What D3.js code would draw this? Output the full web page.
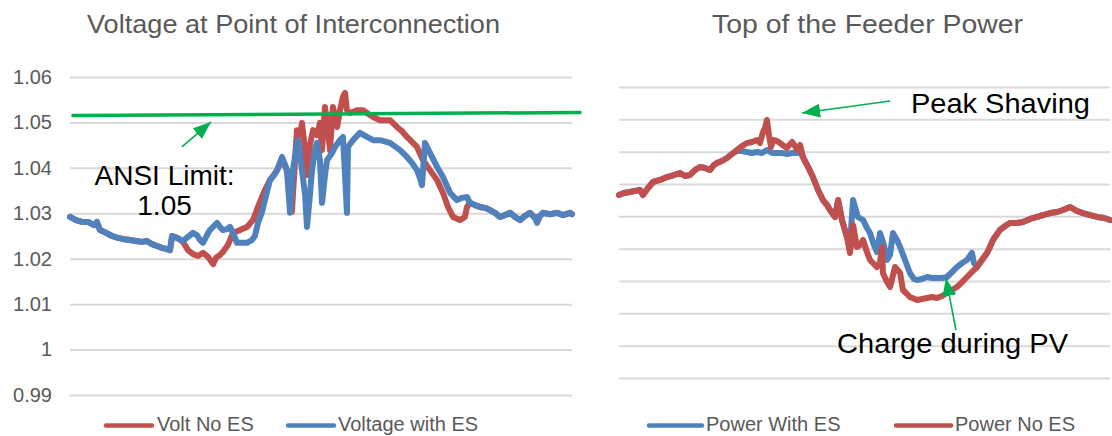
<!DOCTYPE html>
<html><head><meta charset="utf-8">
<script src="https://cdn.jsdelivr.net/npm/d3@7"></script>
<style>body{margin:0;background:#fff}svg{display:block;font-family:"Liberation Sans",Arial,sans-serif}</style>
</head><body><svg id="c" width="1112" height="436"></svg>
<script>
// ---------- DATA ----------
const voltTicks = [0.99, 1.00, 1.01, 1.02, 1.03, 1.04, 1.05, 1.06];
const voltTickLabels = ["0.99", "1", "1.01", "1.02", "1.03", "1.04", "1.05", "1.06"];
const powerTicks = [0, 0.5, 1, 1.5, 2, 2.5, 3, 3.5, 4, 4.5];

// [hour, p.u. voltage]
const voltNoES = [[0,1.0292],[0.29,1.0285],[0.57,1.0281],[0.86,1.0281],[1.15,1.0274],[1.29,1.0281],[1.43,1.0263],[1.72,1.0257],[2.01,1.0250],[2.29,1.0246],[2.58,1.0243],[2.87,1.0241],[3.16,1.0239],[3.44,1.0237],[3.68,1.0239],[3.92,1.0232],[4.16,1.0228],[4.40,1.0224],[4.64,1.0221],[4.78,1.0219],[4.88,1.0250],[5.12,1.0246],[5.40,1.0237],[5.64,1.0219],[5.88,1.0210],[6.12,1.0206],[6.36,1.0213],[6.60,1.0204],[6.84,1.0188],[6.98,1.0202],[7.17,1.0208],[7.31,1.0215],[7.55,1.0230],[7.79,1.0257],[8.13,1.0263],[8.46,1.0270],[8.75,1.0285],[8.99,1.0314],[9.18,1.0336],[9.32,1.0351],[9.56,1.0373],[9.75,1.0384],[9.90,1.0395],[10.14,1.0417],[10.28,1.0406],[10.42,1.0384],[10.61,1.0303],[10.76,1.0417],[10.85,1.0483],[11.00,1.0472],[11.09,1.0499],[11.24,1.0439],[11.33,1.0384],[11.47,1.0450],[11.62,1.0483],[11.81,1.0472],[11.95,1.0499],[12.05,1.0439],[12.19,1.0534],[12.33,1.0483],[12.43,1.0439],[12.57,1.0534],[12.77,1.0490],[12.91,1.0527],[13.05,1.0556],[13.15,1.0565],[13.24,1.0527],[13.39,1.0521],[13.53,1.0523],[13.72,1.0527],[14.01,1.0527],[14.25,1.0519],[14.49,1.0512],[14.82,1.0505],[15.30,1.0505],[15.63,1.0490],[15.87,1.0481],[16.11,1.0468],[16.35,1.0457],[16.59,1.0446],[16.88,1.0417],[17.21,1.0395],[17.55,1.0373],[17.83,1.0345],[18.07,1.0314],[18.31,1.0292],[18.65,1.0285],[18.88,1.0292],[18.98,1.0314],[19.12,1.0323],[19.36,1.0318],[19.60,1.0314],[19.84,1.0312],[20.08,1.0307],[20.32,1.0301],[20.56,1.0292],[20.80,1.0296],[21.04,1.0301],[21.28,1.0292],[21.51,1.0285],[21.75,1.0294],[21.99,1.0301],[22.23,1.0290],[22.47,1.0294],[22.61,1.0301],[22.95,1.0298],[23.28,1.0301],[23.57,1.0296],[23.90,1.0301],[24.00,1.0298]];

const voltWithES = [[0,1.0292],[0.29,1.0285],[0.57,1.0281],[0.86,1.0281],[1.15,1.0274],[1.29,1.0281],[1.43,1.0263],[1.72,1.0257],[2.01,1.0250],[2.29,1.0246],[2.58,1.0243],[2.87,1.0241],[3.16,1.0239],[3.44,1.0237],[3.68,1.0239],[3.92,1.0232],[4.16,1.0228],[4.40,1.0224],[4.64,1.0221],[4.78,1.0219],[4.88,1.0250],[5.12,1.0246],[5.40,1.0239],[5.64,1.0248],[5.88,1.0257],[6.07,1.0252],[6.22,1.0241],[6.36,1.0235],[6.55,1.0252],[6.69,1.0263],[6.88,1.0272],[7.03,1.0279],[7.17,1.0270],[7.31,1.0263],[7.51,1.0265],[7.65,1.0270],[7.84,1.0252],[7.98,1.0235],[8.22,1.0235],[8.46,1.0235],[8.70,1.0241],[8.84,1.0250],[8.99,1.0279],[9.18,1.0303],[9.32,1.0329],[9.56,1.0373],[9.75,1.0384],[9.90,1.0395],[10.14,1.0424],[10.28,1.0406],[10.37,1.0395],[10.52,1.0301],[10.66,1.0395],[10.80,1.0439],[10.90,1.0461],[11.00,1.0428],[11.09,1.0395],[11.24,1.0340],[11.33,1.0270],[11.47,1.0340],[11.57,1.0395],[11.71,1.0439],[11.81,1.0455],[11.95,1.0417],[12.05,1.0323],[12.19,1.0384],[12.29,1.0417],[12.53,1.0433],[12.67,1.0446],[12.91,1.0461],[13.05,1.0468],[13.15,1.0384],[13.24,1.0301],[13.29,1.0446],[13.53,1.0461],[13.86,1.0477],[14.20,1.0468],[14.49,1.0461],[14.82,1.0461],[15.30,1.0455],[15.78,1.0439],[16.11,1.0424],[16.35,1.0411],[16.59,1.0395],[16.73,1.0378],[16.83,1.0362],[16.97,1.0455],[17.21,1.0433],[17.55,1.0402],[17.83,1.0380],[18.17,1.0345],[18.50,1.0329],[18.74,1.0334],[18.98,1.0336],[19.12,1.0323],[19.36,1.0318],[19.60,1.0314],[19.84,1.0312],[20.08,1.0307],[20.32,1.0301],[20.56,1.0292],[20.80,1.0296],[21.04,1.0301],[21.28,1.0292],[21.51,1.0285],[21.75,1.0294],[21.99,1.0301],[22.23,1.0290],[22.33,1.0279],[22.47,1.0294],[22.61,1.0301],[22.95,1.0298],[23.28,1.0301],[23.57,1.0296],[23.90,1.0301],[24.00,1.0298]];

const ansiLimit = [[0.14,1.0515],[24.38,1.0522]];

// [hour, MW]
const powerWithES = [[0,2.830],[0.24,2.861],[0.54,2.876],[0.78,2.892],[1.03,2.907],[1.17,2.830],[1.42,2.938],[1.66,3.031],[2.00,3.062],[2.35,3.108],[2.69,3.139],[2.98,3.170],[3.23,3.124],[3.47,3.139],[3.71,3.216],[3.96,3.263],[4.20,3.247],[4.45,3.216],[4.64,3.294],[4.79,3.325],[5.03,3.356],[5.28,3.402],[5.52,3.464],[5.77,3.510],[6.01,3.510],[6.26,3.495],[6.50,3.479],[6.75,3.495],[6.99,3.479],[7.23,3.526],[7.48,3.479],[7.72,3.479],[7.97,3.479],[8.21,3.464],[8.46,3.479],[8.70,3.479],[8.85,3.495],[8.99,3.417],[9.24,3.263],[9.48,3.108],[9.73,2.907],[9.97,2.752],[10.17,2.675],[10.31,2.598],[10.56,2.490],[10.71,2.752],[10.90,2.443],[11.14,2.180],[11.29,2.057],[11.44,2.752],[11.68,2.490],[11.93,2.443],[12.12,2.319],[12.27,2.242],[12.46,2.057],[12.61,1.948],[12.76,2.242],[12.95,2.057],[13.10,1.825],[13.25,1.902],[13.39,2.242],[13.59,2.134],[13.74,2.026],[13.98,1.825],[14.22,1.624],[14.42,1.531],[14.57,1.515],[14.81,1.531],[15.06,1.562],[15.30,1.546],[15.54,1.546],[15.79,1.546],[16.03,1.562],[16.28,1.639],[16.52,1.716],[16.77,1.778],[17.01,1.825],[17.25,1.933],[17.35,1.778],[17.50,1.716],[17.74,1.825],[17.99,1.933],[18.13,2.026],[18.28,2.134],[18.48,2.227],[18.62,2.289],[18.87,2.350],[19.11,2.397],[19.45,2.397],[19.75,2.412],[20.09,2.459],[20.43,2.490],[20.73,2.520],[21.07,2.551],[21.41,2.567],[21.70,2.598],[22.05,2.644],[22.39,2.582],[22.68,2.551],[23.03,2.520],[23.37,2.490],[23.71,2.474],[24.00,2.443]];

const powerNoES = [[0,2.830],[0.24,2.861],[0.54,2.876],[0.78,2.892],[1.03,2.907],[1.17,2.830],[1.42,2.938],[1.66,3.031],[2.00,3.062],[2.35,3.108],[2.69,3.139],[2.98,3.170],[3.23,3.124],[3.47,3.139],[3.71,3.216],[3.96,3.263],[4.20,3.247],[4.45,3.216],[4.64,3.294],[4.79,3.325],[5.03,3.356],[5.28,3.402],[5.52,3.464],[5.77,3.526],[6.01,3.587],[6.26,3.634],[6.50,3.649],[6.75,3.680],[6.89,3.634],[7.04,3.804],[7.14,3.866],[7.23,3.990],[7.33,3.758],[7.43,3.572],[7.53,3.680],[7.72,3.665],[7.87,3.634],[8.07,3.587],[8.21,3.557],[8.36,3.618],[8.46,3.649],[8.60,3.587],[8.70,3.526],[8.85,3.603],[8.99,3.417],[9.24,3.263],[9.48,3.108],[9.73,2.907],[9.97,2.752],[10.17,2.675],[10.31,2.598],[10.56,2.490],[10.71,2.752],[10.90,2.443],[11.14,2.180],[11.29,1.933],[11.44,2.366],[11.63,2.026],[11.78,2.057],[11.93,2.134],[12.12,1.948],[12.27,1.825],[12.46,1.763],[12.61,1.716],[12.76,1.794],[12.86,2.026],[12.90,1.624],[13.10,1.484],[13.25,1.407],[13.49,1.716],[13.74,1.624],[13.88,1.361],[14.08,1.299],[14.22,1.253],[14.57,1.206],[14.81,1.222],[15.06,1.237],[15.30,1.253],[15.54,1.237],[15.79,1.268],[16.03,1.314],[16.28,1.361],[16.52,1.407],[16.77,1.484],[17.01,1.562],[17.25,1.639],[17.50,1.716],[17.74,1.825],[17.99,1.933],[18.13,2.026],[18.28,2.134],[18.48,2.227],[18.62,2.289],[18.87,2.350],[19.11,2.397],[19.45,2.397],[19.75,2.412],[20.09,2.459],[20.43,2.490],[20.73,2.520],[21.07,2.551],[21.41,2.567],[21.70,2.598],[22.05,2.644],[22.39,2.582],[22.68,2.551],[23.03,2.520],[23.37,2.490],[23.71,2.474],[24.00,2.443]];

const titles = ["Voltage at Point of Interconnection", "Top of the Feeder Power"];
const legendLeft = ["Volt No ES", "Voltage with ES"];
const legendRight = ["Power With ES", "Power No ES"];

// ---------- STYLE ----------
const RED = "#C0504D", BLUE = "#4F81BD", GREEN = "#00B050", GRID = "#D9D9D9", GREYTXT = "#595959";

const svg = d3.select("#c");
svg.append("rect").attr("width", 1112).attr("height", 436).attr("fill", "#fff");

const defs = svg.append("defs");
defs.append("marker").attr("id", "arr").attr("markerUnits", "userSpaceOnUse")
  .attr("markerWidth", 19).attr("markerHeight", 14).attr("refX", 18).attr("refY", 7)
  .attr("orient", "auto")
  .append("path").attr("d", "M0,0 L18,7 L0,14 Z").attr("fill", GREEN);

const xV = d3.scaleLinear().domain([0, 24]).range([70, 572]);
const yV = d3.scaleLinear().domain([0.99, 1.06]).range([395, 77]);
const xP = d3.scaleLinear().domain([0, 24]).range([619, 1110]);
const yP = d3.scaleLinear().domain([0, 4.5]).range([378, 87]);

// left grid + labels
const gL = svg.append("g").attr("transform", "translate(70,0)")
  .call(d3.axisLeft(yV).tickValues(voltTicks).tickSize(-502).tickPadding(18)
    .tickFormat((d, i) => voltTickLabels[i]));
gL.select(".domain").remove();
gL.selectAll("line").attr("stroke", GRID).attr("stroke-width", 2);
gL.selectAll("text").attr("font-size", 20).attr("fill", GREYTXT)
  .attr("font-family", '"Liberation Sans",Arial,sans-serif');

// right grid
const gR = svg.append("g").attr("transform", "translate(619,0)")
  .call(d3.axisLeft(yP).tickValues(powerTicks).tickSize(-491).tickFormat(""));
gR.select(".domain").remove();
gR.selectAll("line").attr("stroke", GRID).attr("stroke-width", 2);

// lines
const lineV = d3.line().x(d => xV(d[0])).y(d => yV(d[1]));
const lineP = d3.line().x(d => xP(d[0])).y(d => yP(d[1]));
function draw(gen, data, color, w) {
  svg.append("path").datum(data).attr("d", gen).attr("fill", "none")
    .attr("stroke", color).attr("stroke-width", w)
    .attr("stroke-linejoin", "round").attr("stroke-linecap", "round");
}
draw(lineV, voltNoES, RED, 6);
draw(lineV, voltWithES, BLUE, 6);
draw(lineV, ansiLimit, GREEN, 3.5);
draw(lineP, powerWithES, BLUE, 6);
draw(lineP, powerNoES, RED, 6);

// titles
svg.append("text").attr("x", 293.5).attr("y", 33).attr("text-anchor", "middle")
  .attr("font-size", 26).attr("fill", GREYTXT)
  .attr("textLength", 413).attr("lengthAdjust", "spacingAndGlyphs").text(titles[0]);
svg.append("text").attr("x", 867.5).attr("y", 33).attr("text-anchor", "middle")
  .attr("font-size", 26).attr("fill", GREYTXT)
  .attr("textLength", 311).attr("lengthAdjust", "spacingAndGlyphs").text(titles[1]);

// annotations
function arrow(x1, y1, x2, y2) {
  svg.append("line").attr("x1", x1).attr("y1", y1).attr("x2", x2).attr("y2", y2)
    .attr("stroke", GREEN).attr("stroke-width", 1.6).attr("marker-end", "url(#arr)");
}
arrow(xV(5.35), yV(1.0446), xV(6.74), yV(1.0501));
svg.append("text").attr("x", xV(4.52)).attr("y", yV(1.0362)).attr("text-anchor", "middle")
  .attr("font-size", 28).attr("fill", "#000").text("ANSI Limit:");
svg.append("text").attr("x", xV(4.52)).attr("y", yV(1.0296)).attr("text-anchor", "middle")
  .attr("font-size", 28).attr("fill", "#000").text("1.05");

arrow(xP(13.25), yP(4.283), xP(8.95), yP(4.098));
svg.append("text").attr("x", xP(14.27)).attr("y", yP(4.098))
  .attr("font-size", 28).attr("fill", "#000")
  .attr("textLength", 179).attr("lengthAdjust", "spacingAndGlyphs").text("Peak Shaving");
arrow(xP(16.47), yP(0.742), xP(15.98), yP(1.546));
svg.append("text").attr("x", xP(10.66)).attr("y", yP(0.387))
  .attr("font-size", 28).attr("fill", "#000")
  .attr("textLength", 231).attr("lengthAdjust", "spacingAndGlyphs").text("Charge during PV");

// legends
function legend(x1, x2, tx, label, color) {
  svg.append("line").attr("x1", x1).attr("x2", x2).attr("y1", 425.5).attr("y2", 425.5)
    .attr("stroke", color).attr("stroke-width", 4.5).attr("stroke-linecap", "round");
  svg.append("text").attr("x", tx).attr("y", 431).attr("font-size", 20)
    .attr("fill", GREYTXT).text(label);
}
legend(106, 152, 157, legendLeft[0], RED);
legend(288, 334, 338, legendLeft[1], BLUE);
legend(649, 702, 706, legendRight[0], BLUE);
legend(896, 951, 955, legendRight[1], RED);
</script></body></html>
